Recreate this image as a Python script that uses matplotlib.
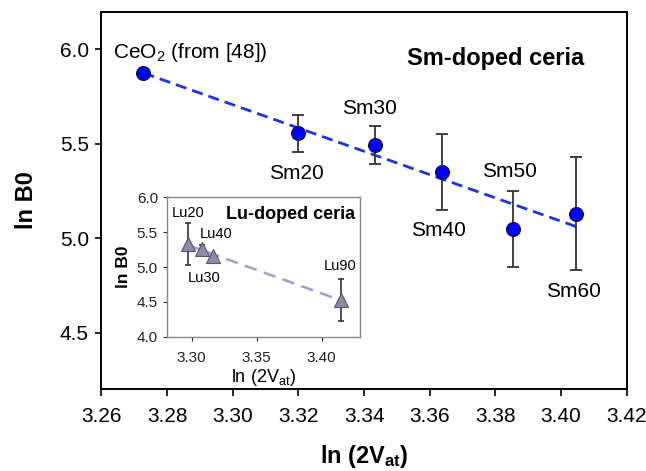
import numpy as np
import matplotlib
matplotlib.use('Agg')
import matplotlib.pyplot as plt

plt.rcParams['font.family'] = ['Liberation Sans', 'DejaVu Sans']
plt.rcParams['mathtext.default'] = 'regular'

# Sm-doped ceria (main panel)
sm_names = ['CeO$_2$ (from [48])', 'Sm20', 'Sm30', 'Sm40', 'Sm50', 'Sm60']
sm_x = [3.2728, 3.3198, 3.3434, 3.3637, 3.3853, 3.4046]
sm_y = [5.877, 5.555, 5.493, 5.352, 5.049, 5.130]
sm_err = [0.0, 0.10, 0.10, 0.20, 0.20, 0.30]

# Lu-doped ceria (inset)
lu_names = ['Lu20', 'Lu30', 'Lu40', 'Lu90']
lu_x = [3.2975, 3.3162, 3.3079, 3.4152]
lu_y = [5.325, 5.153, 5.258, 4.522]
lu_err = [0.30, 0.0, 0.06, 0.30]

fig = plt.figure(figsize=(6.46, 4.71), dpi=100)
ax = fig.add_axes([0.157, 0.1735, 0.8132, 0.8017])

# fitted line through Sm data
k, b = np.polyfit(sm_x, sm_y, 1)
xf = np.array([min(sm_x), max(sm_x)])
ax.plot(xf, k * xf + b, color='#2030e8', lw=2.0, ls=(0, (4, 2.2)), zorder=2)

ax.errorbar(sm_x[1:], sm_y[1:], yerr=sm_err[1:], fmt='none', ecolor='#333333',
            elinewidth=1.3, capsize=4, capthick=1.3, zorder=3)
ax.plot(sm_x, sm_y, 'o', ms=10, mfc='#0000ff', mec='#101030', mew=0.8, zorder=4)

ax.set_xlim(3.26, 3.42)
ax.set_ylim(4.2, 6.2)
ax.set_xticks(np.arange(3.26, 3.4201, 0.02))
ax.set_yticks([4.5, 5.0, 5.5, 6.0])
ax.xaxis.set_major_formatter(matplotlib.ticker.FormatStrFormatter('%.2f'))
ax.yaxis.set_major_formatter(matplotlib.ticker.FormatStrFormatter('%.1f'))
ax.tick_params(labelsize=15, direction='out', length=5, width=1.2)
ax.tick_params(axis='y', length=4, pad=5)
ax.tick_params(axis='x', pad=8)
for s in ax.spines.values():
    s.set_linewidth(1.4)
ax.set_xlabel('ln (2V$_{at}$)', fontsize=17, fontweight='bold', labelpad=12)
ax.set_ylabel('ln B0', fontsize=17, fontweight='bold', labelpad=16)

ax.text(3.2635, 5.985, sm_names[0], fontsize=15, ha='left', va='center')
sm_lab = [(3.3193, 5.345), (3.3417, 5.689), (3.3627, 5.041), (3.3843, 5.354), (3.4038, 4.719)]
for name, (tx, ty) in zip(sm_names[1:], sm_lab):
    ax.text(tx, ty, name, fontsize=15, ha='center', va='center')
ax.text(3.380, 5.954, 'Sm-doped ceria', fontsize=17, fontweight='bold', ha='center', va='center')

# inset
ins = fig.add_axes([0.2585, 0.2851, 0.2988, 0.296])
k2, b2 = np.polyfit(lu_x, lu_y, 1)
xf2 = np.array([min(lu_x), max(lu_x)])
ins.plot(xf2, k2 * xf2 + b2, color='#a0a0c8', lw=1.8, ls=(0, (5, 3)), zorder=2)
ins.errorbar(lu_x, lu_y, yerr=lu_err, fmt='none', ecolor='#333333',
             elinewidth=1.2, capsize=2.5, capthick=1.2, zorder=3)
ins.plot(lu_x, lu_y, '^', ms=10, mfc='#8c8ca6', mec='#55556a', mew=0.8, zorder=4)
ins.set_xlim(3.281, 3.4295)
ins.set_ylim(4.0, 6.0)
ins.set_xticks([3.30, 3.35, 3.40])
ins.set_yticks([4.0, 4.5, 5.0, 5.5, 6.0])
ins.xaxis.set_major_formatter(matplotlib.ticker.FormatStrFormatter('%.2f'))
ins.yaxis.set_major_formatter(matplotlib.ticker.FormatStrFormatter('%.1f'))
ins.tick_params(labelsize=11, direction='out', length=3, width=0.8, colors='#222222')
ins.tick_params(axis='x', pad=7)
for s in ins.spines.values():
    s.set_color('#888888')
    s.set_linewidth(1.0)
ins.set_xlabel('ln (2V$_{at}$)', fontsize=13, labelpad=2)
ins.set_ylabel('ln B0', fontsize=12.5, fontweight='bold', labelpad=4)

lu_lab = [(3.2971, 5.770), (3.3095, 4.847), (3.319, 5.469), (3.4143, 5.014)]
for name, (tx, ty) in zip(lu_names, lu_lab):
    ins.text(tx, ty, name, fontsize=10.5, ha='center', va='center')
ins.text(3.3762, 5.756, 'Lu-doped ceria', fontsize=13, fontweight='bold', ha='center', va='center')

fig.savefig('out.png', dpi=100, facecolor='white')
